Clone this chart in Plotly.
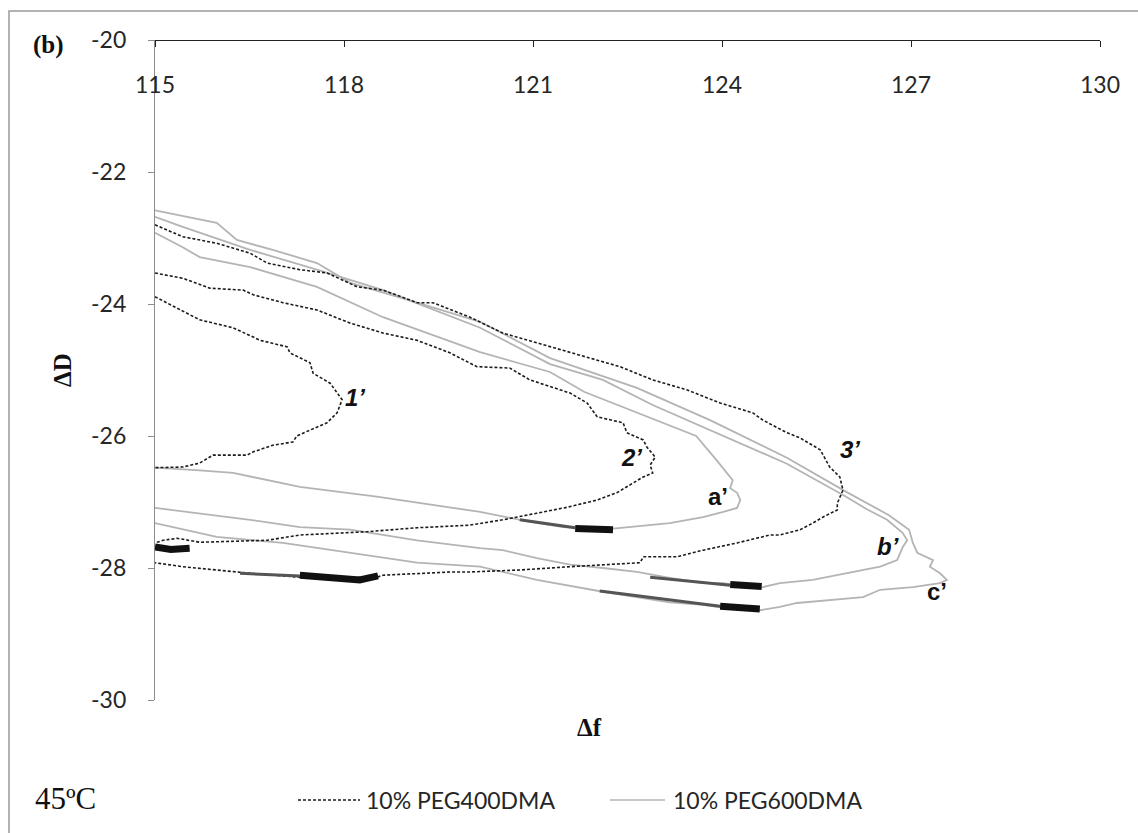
import plotly.graph_objects as go

# Δf / ΔD loops at 45 °C, three runs per cross-linker (upper branch, tip, lower branch)
peg400_1_f = [115.0, 115.71, 116.24, 116.67, 117.10, 117.14, 117.46, 117.51, 117.78, 117.89, 117.97,
              117.89, 117.73, 117.46, 117.25, 117.19, 116.87, 116.56, 116.46, 115.92, 115.71, 115.44, 115.0]
peg400_1_d = [-23.89, -24.24, -24.36, -24.55, -24.65, -24.74, -24.89, -25.05, -25.20, -25.35, -25.45,
              -25.65, -25.80, -25.91, -26.00, -26.09, -26.14, -26.24, -26.29, -26.29, -26.41, -26.47, -26.48]

peg400_2_f = [115.0, 115.44, 115.87, 116.40, 116.56, 117.03, 117.57, 118.10, 118.62, 119.16, 119.68,
              120.11, 120.63, 120.95, 121.59, 121.86, 122.02, 122.43, 122.49, 122.75, 122.81, 122.94,
              122.86, 122.90, 122.75, 122.59, 122.33, 122.02, 121.54, 121.06, 120.52, 120.00, 119.16,
              118.37, 117.30, 116.78, 115.71, 115.35, 115.13, 115.0]
peg400_2_d = [-23.53, -23.61, -23.76, -23.79, -23.86, -23.98, -24.09, -24.29, -24.44, -24.55, -24.74,
              -24.95, -24.97, -25.15, -25.35, -25.50, -25.71, -25.80, -25.95, -26.06, -26.17, -26.32,
              -26.44, -26.56, -26.62, -26.71, -26.86, -26.97, -27.08, -27.17, -27.27, -27.35, -27.39,
              -27.45, -27.50, -27.58, -27.61, -27.55, -27.58, -27.62]

peg400_3_f = [115.0, 115.44, 115.98, 116.51, 116.78, 117.30, 117.73, 118.21, 118.62, 119.16, 119.41,
              120.00, 120.52, 121.06, 121.59, 122.38, 122.90, 123.44, 123.97, 124.49, 124.65, 125.03,
              125.24, 125.56, 125.71, 125.87, 125.92, 125.83, 125.83, 125.60, 125.44, 125.24, 124.92,
              124.76, 124.24, 123.70, 123.29, 122.75, 122.70, 122.11, 121.59, 120.79, 120.00, 119.68,
              118.62, 118.52, 117.30, 116.51, 115.98, 115.44, 115.0]
peg400_3_d = [-22.80, -22.98, -23.08, -23.23, -23.38, -23.48, -23.53, -23.74, -23.79, -23.98, -23.98,
              -24.20, -24.44, -24.59, -24.74, -24.95, -25.15, -25.30, -25.50, -25.65, -25.76, -25.95,
              -26.03, -26.21, -26.47, -26.62, -26.82, -27.02, -27.12, -27.23, -27.32, -27.42, -27.50,
              -27.50, -27.62, -27.73, -27.83, -27.83, -27.92, -27.95, -27.98, -28.03, -28.06, -28.06,
              -28.11, -28.14, -28.14, -28.08, -28.03, -27.98, -27.92]

peg600_a_f = [115.0, 115.44, 115.71, 116.51, 117.57, 118.62, 120.16, 121.27, 121.81, 122.89, 123.59,
              123.90, 124.17, 124.13, 124.24, 124.29, 124.24, 124.02, 123.70, 123.17, 122.38, 122.11,
              121.48, 120.95, 120.16, 118.52, 117.30, 116.24, 115.71, 115.0]
peg600_a_d = [-22.92, -23.14, -23.29, -23.44, -23.74, -24.20, -24.73, -25.03, -25.33, -25.74, -26.00,
              -26.35, -26.67, -26.79, -26.86, -26.97, -27.09, -27.15, -27.23, -27.32, -27.39, -27.42,
              -27.38, -27.30, -27.15, -26.92, -26.77, -26.56, -26.52, -26.48]

peg600_b_f = [115.0, 115.44, 116.51, 117.57, 118.62, 120.16, 121.27, 122.11, 122.90, 123.95, 125.03,
              125.95, 126.30, 126.62, 126.87, 126.94, 126.87, 126.83, 126.78, 126.51, 125.98, 125.44,
              124.92, 124.60, 124.02, 123.70, 123.17, 122.65, 122.11, 121.59, 121.06, 120.52, 120.16,
              119.16, 118.10, 117.30, 116.51, 115.71, 115.0]
peg600_b_d = [-22.68, -22.83, -23.18, -23.48, -23.79, -24.36, -24.91, -25.15, -25.53, -25.97, -26.42,
              -26.91, -27.11, -27.27, -27.47, -27.58, -27.68, -27.77, -27.88, -27.98, -28.08, -28.18,
              -28.23, -28.30, -28.23, -28.23, -28.15, -28.06, -28.00, -27.95, -27.85, -27.73, -27.70,
              -27.58, -27.42, -27.38, -27.27, -27.17, -27.09]

peg600_c_f = [115.0, 115.98, 116.30, 116.87, 117.57, 118.10, 119.16, 120.16, 121.27, 122.65, 123.81,
              125.03, 125.98, 126.65, 126.97, 127.03, 127.10, 127.35, 127.30, 127.46, 127.57, 127.46,
              127.03, 126.51, 126.24, 125.71, 125.19, 124.92, 124.60, 123.92, 123.70, 123.17, 122.65,
              122.11, 121.06, 120.16, 119.16, 118.10, 117.03, 115.98, 115.0]
peg600_c_d = [-22.58, -22.77, -23.03, -23.18, -23.38, -23.68, -23.98, -24.27, -24.82, -25.27, -25.76,
              -26.33, -26.85, -27.20, -27.42, -27.62, -27.77, -27.88, -27.98, -28.08, -28.18, -28.23,
              -28.29, -28.33, -28.44, -28.48, -28.53, -28.59, -28.64, -28.59, -28.56, -28.52, -28.44,
              -28.36, -28.18, -27.98, -27.92, -27.77, -27.62, -27.53, -27.32]

# Dense, noisy stretches of the recordings (segments separated by None)
noise_core_f = [115.0, 115.25, 115.55, None, 117.30, 117.78, 118.25, 118.54, None,
                121.67, 122.27, None, 124.13, 124.63, None, 123.97, 124.60]
noise_core_d = [-27.68, -27.72, -27.70, None, -28.11, -28.15, -28.18, -28.12, None,
                -27.40, -27.42, None, -28.25, -28.28, None, -28.58, -28.62]
noise_edge_f = [120.79, 121.67, None, 122.86, 124.13, None, 122.06, 123.97, None, 116.35, 117.30]
noise_edge_d = [-27.27, -27.39, None, -28.14, -28.26, None, -28.35, -28.58, None, -28.08, -28.12]

# Curve tags: (text, Δf, ΔD, italic)
curve_tags = [("1’", 118.17, -25.42, True), ("2’", 122.57, -26.32, True), ("3’", 126.03, -26.21, True),
              ("a’", 123.94, -26.92, False), ("b’", 126.63, -27.68, True), ("c’", 127.41, -28.36, False)]

series_names = ["10% PEG400DMA", "10% PEG600DMA"]
x_ticks = [115, 118, 121, 124, 127, 130]
y_ticks = [-30, -28, -26, -24, -22, -20]
y_tick_labels = ["-30", "-28", "-26", "-24", "-22", "-20"]

DASH_COLOR = "#1c1c1c"
GRAY_COLOR = "#b4b4b4"
TICK_FONT = dict(family="Lato", size=23, color="#262626")
SERIF = "Liberation Serif"

fig = go.Figure()

for f, d in [(peg600_a_f, peg600_a_d), (peg600_b_f, peg600_b_d), (peg600_c_f, peg600_c_d)]:
    fig.add_trace(go.Scatter(x=f, y=d, mode="lines", name=series_names[1], showlegend=False,
                             line=dict(color=GRAY_COLOR, width=1.8)))

for f, d in [(peg400_1_f, peg400_1_d), (peg400_2_f, peg400_2_d), (peg400_3_f, peg400_3_d)]:
    fig.add_trace(go.Scatter(x=f, y=d, mode="lines", name=series_names[0], showlegend=False,
                             line=dict(color=DASH_COLOR, width=1.6, dash="3px,2px")))

fig.add_trace(go.Scatter(x=noise_edge_f, y=noise_edge_d, mode="lines", showlegend=False,
                         line=dict(color="#555555", width=3)))
fig.add_trace(go.Scatter(x=noise_core_f, y=noise_core_d, mode="lines", showlegend=False,
                         line=dict(color="#111111", width=7)))

for text, f, d, ital in curve_tags:
    fig.add_annotation(x=f, y=d, text=f"<b>{'<i>' + text + '</i>' if ital else text}</b>",
                       showarrow=False, font=dict(family="Liberation Sans", size=24, color="#111111"))

# Δf axis runs along the top edge (ΔD = -20) with its labels just beneath it
fig.update_xaxes(range=[115, 130], tickvals=x_ticks, anchor="free", position=1.0, side="bottom",
                 ticks="outside", ticklen=6, tickcolor="#222222", linecolor="#222222", linewidth=1.3,
                 showline=True, showgrid=False, zeroline=False, ticklabelstandoff=18,
                 tickfont=TICK_FONT)
fig.update_yaxes(range=[-30, -20], tickvals=y_ticks, ticktext=y_tick_labels, ticks="outside",
                 ticklen=6, tickcolor="#8c8c8c", linecolor="#8c8c8c", linewidth=1.3, showline=True,
                 showgrid=False, zeroline=False, ticklabelstandoff=17, tickfont=TICK_FONT)

# Axis titles and panel text
fig.add_annotation(xref="paper", yref="paper", x=-0.0984, y=0.5, xanchor="center", yanchor="middle",
                   text="<b>ΔD</b>", textangle=-90, showarrow=False,
                   font=dict(family=SERIF, size=25, color="#111111"))
fig.add_annotation(xref="paper", yref="paper", x=0.4593, y=-0.0424, xanchor="center", yanchor="middle",
                   text="<b>Δf</b>", showarrow=False, font=dict(family=SERIF, size=25, color="#111111"))
fig.add_annotation(xref="paper", yref="paper", x=-0.1132, y=0.9924, xanchor="center", yanchor="middle",
                   text="<b>(b)</b>", showarrow=False, font=dict(family=SERIF, size=25, color="#111111"))
fig.add_annotation(xref="paper", yref="paper", x=-0.0952, y=-0.149, xanchor="center", yanchor="middle",
                   text="45ºC", showarrow=False, font=dict(family=SERIF, size=31, color="#111111"))

# Legend row
leg_y = -0.1515
fig.add_shape(type="line", xref="paper", yref="paper", x0=0.1513, x1=0.2169, y0=leg_y, y1=leg_y,
              line=dict(color=DASH_COLOR, width=1.4, dash="3px,2px"))
fig.add_annotation(xref="paper", yref="paper", x=0.2212, y=leg_y, xanchor="left", yanchor="middle",
                   text=series_names[0], showarrow=False, font=TICK_FONT)
fig.add_shape(type="line", xref="paper", yref="paper", x0=0.4815, x1=0.5397, y0=leg_y, y1=leg_y,
              line=dict(color=GRAY_COLOR, width=1.6))
fig.add_annotation(xref="paper", yref="paper", x=0.546, y=leg_y, xanchor="left", yanchor="middle",
                   text=series_names[1], showarrow=False, font=TICK_FONT)

# Outer chart frame
fig.add_shape(type="rect", xref="paper", yref="paper", x0=-0.1545, x1=1.06, y0=-0.25, y1=1.0439,
              line=dict(color="#9a9a9a", width=1.5), layer="below")

fig.update_layout(width=1138, height=833, margin=dict(l=155, r=38, t=40, b=133),
                  plot_bgcolor="white", paper_bgcolor="white", showlegend=False)

fig.write_html("out.html")
